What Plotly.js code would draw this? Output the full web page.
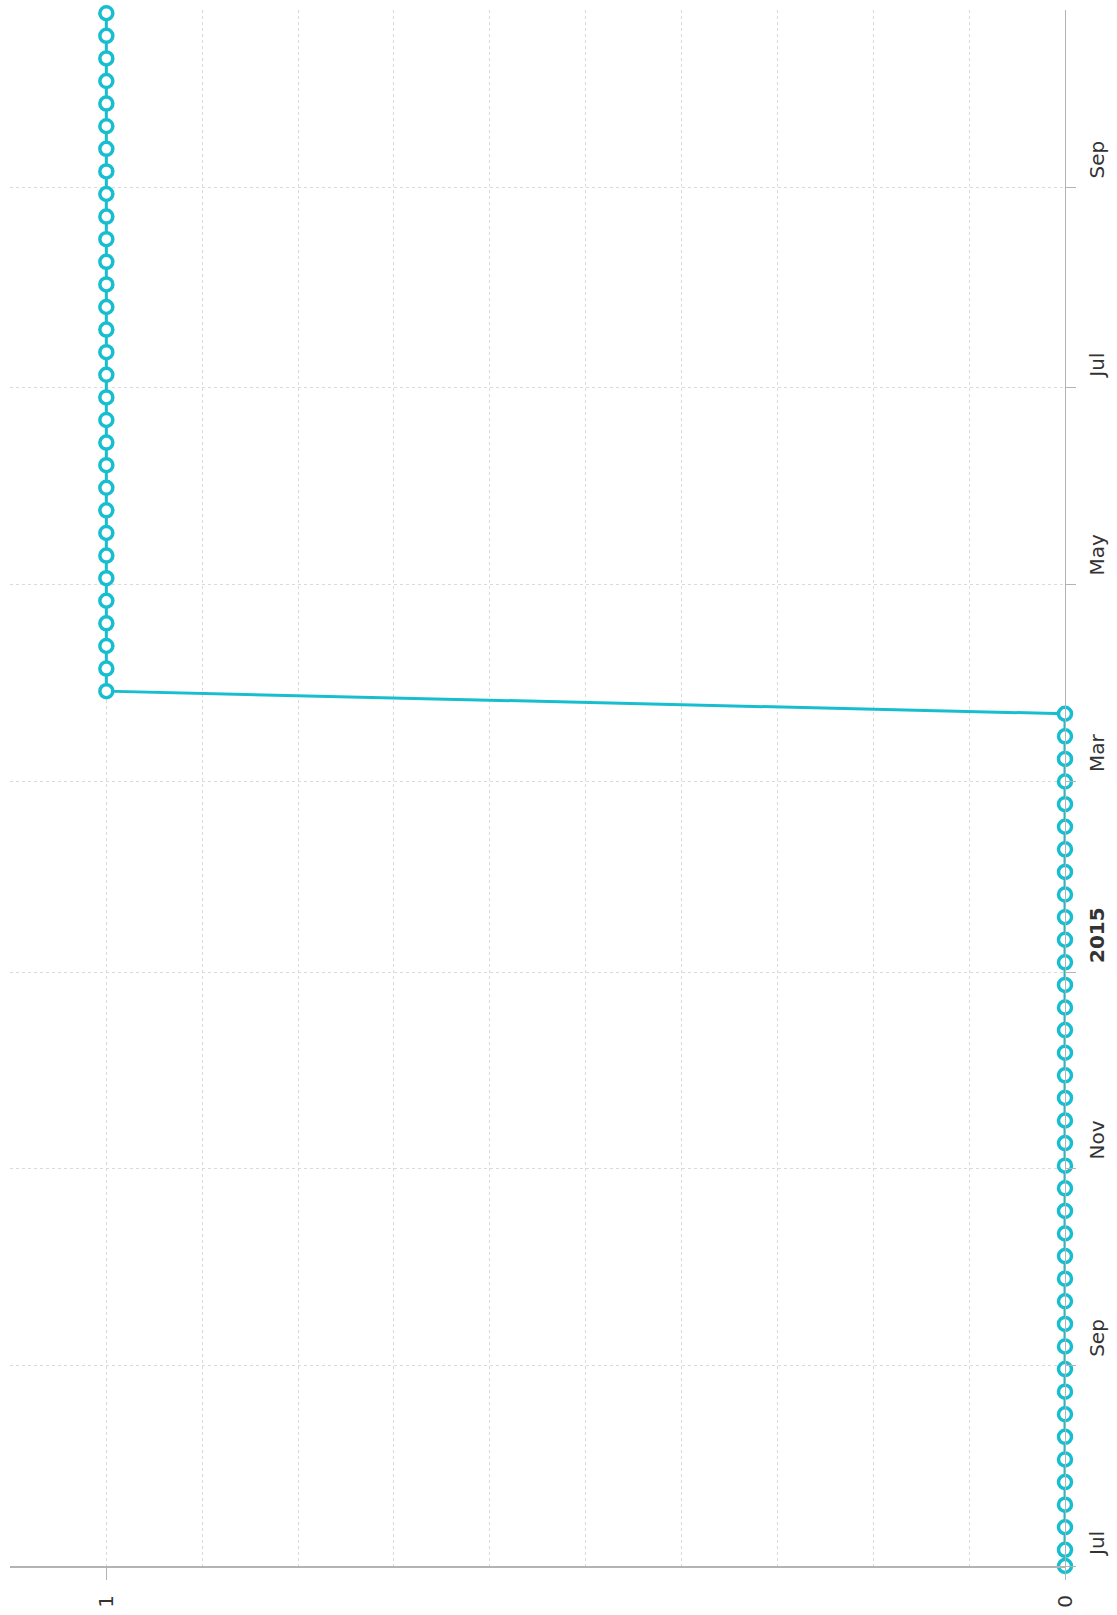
<!DOCTYPE html>
<html>
<head>
<meta charset="utf-8">
<script src="https://cdn.plot.ly/plotly-3.0.1.min.js"></script>
<style>
  html, body { margin: 0; padding: 0; background: #ffffff; }
  #chart { width: 1117px; height: 1615px; }
</style>
</head>
<body>
<div id="chart"></div>
<script>
// ---- data ----
const weekDates = [
  "2014-07-01",
  "2014-07-06","2014-07-13","2014-07-20","2014-07-27",
  "2014-08-03","2014-08-10","2014-08-17","2014-08-24","2014-08-31",
  "2014-09-07","2014-09-14","2014-09-21","2014-09-28",
  "2014-10-05","2014-10-12","2014-10-19","2014-10-26",
  "2014-11-02","2014-11-09","2014-11-16","2014-11-23","2014-11-30",
  "2014-12-07","2014-12-14","2014-12-21","2014-12-28",
  "2015-01-04","2015-01-11","2015-01-18","2015-01-25",
  "2015-02-01","2015-02-08","2015-02-15","2015-02-22",
  "2015-03-01","2015-03-08","2015-03-15","2015-03-22","2015-03-29",
  "2015-04-05","2015-04-12","2015-04-19","2015-04-26",
  "2015-05-03","2015-05-10","2015-05-17","2015-05-24","2015-05-31",
  "2015-06-07","2015-06-14","2015-06-21","2015-06-28",
  "2015-07-05","2015-07-12","2015-07-19","2015-07-26",
  "2015-08-02","2015-08-09","2015-08-16","2015-08-23","2015-08-30",
  "2015-09-06","2015-09-13","2015-09-20","2015-09-27",
  "2015-10-04","2015-10-11","2015-10-18","2015-10-25"
];
const weekValues = [
  0,
  0,0,0,0,
  0,0,0,0,0,
  0,0,0,0,
  0,0,0,0,
  0,0,0,0,0,
  0,0,0,0,
  0,0,0,0,
  0,0,0,0,
  0,0,0,0,1,
  1,1,1,1,
  1,1,1,1,1,
  1,1,1,1,
  1,1,1,1,
  1,1,1,1,1,
  1,1,1,1,
  1,1,1,1
];
const timeTickDates  = ["2014-07-01","2014-09-01","2014-11-01","2015-01-01","2015-03-01","2015-05-01","2015-07-01","2015-09-01"];
const timeTickLabels = ["Jul","Sep","Nov","<b>2015</b>","Mar","May","Jul","Sep"];
const valueTicks      = [0, 1];
const valueTickLabels = ["0", "1"];
const timeRange  = ["2014-07-01", "2015-10-26"];
const valueRange = [1.1005, 0];

// ---- styles ----
const FONT = "DejaVu Sans";
const LINE_COLOR = "#17becf";
const AXIS_COLOR = "#b3b3b3";
const GRID_COLOR = "#dadada";
const TEXT_COLOR = "#333333";

const trace = {
  type: "scatter",
  mode: "lines+markers",
  x: weekValues,
  y: weekDates,
  line: { color: LINE_COLOR, width: 3 },
  marker: { symbol: "circle", size: 13, color: "#ffffff", line: { color: LINE_COLOR, width: 3.5 } },
  cliponaxis: false,
  hoverinfo: "x+y",
  showlegend: false
};

const annotations = timeTickDates.map((d, i) => ({
  xref: "paper", yref: "y",
  x: 1, y: d,
  xanchor: "center", yanchor: "bottom",
  xshift: 32, yshift: 7,
  textangle: -90,
  text: timeTickLabels[i],
  showarrow: false,
  font: { family: FONT, size: 20, color: TEXT_COLOR }
}));

const layout = {
  width: 1117,
  height: 1615,
  margin: { l: 10, r: 52, t: 10, b: 49, pad: 0 },
  paper_bgcolor: "#ffffff",
  plot_bgcolor: "#ffffff",
  showlegend: false,
  xaxis: {
    range: valueRange,
    tickmode: "array",
    tickvals: valueTicks,
    ticktext: valueTickLabels,
    tickangle: -90,
    ticks: "outside",
    ticklen: 12,
    tickwidth: 1,
    tickcolor: AXIS_COLOR,
    ticklabelstandoff: 7,
    tickfont: { family: FONT, size: 20, color: TEXT_COLOR },
    showline: true,
    linecolor: AXIS_COLOR,
    linewidth: 2,
    showgrid: true,
    gridcolor: GRID_COLOR,
    griddash: "dot",
    gridwidth: 1,
    zeroline: false,
    minor: {
      tickmode: "linear",
      tick0: 0,
      dtick: 0.1,
      ticks: "",
      showgrid: true,
      gridcolor: GRID_COLOR,
      griddash: "dot",
      gridwidth: 1
    }
  },
  yaxis: {
    type: "date",
    range: timeRange,
    side: "right",
    tickmode: "array",
    tickvals: timeTickDates,
    showticklabels: false,
    ticks: "outside",
    ticklen: 10,
    tickwidth: 1,
    tickcolor: AXIS_COLOR,
    showline: true,
    linecolor: AXIS_COLOR,
    linewidth: 1,
    showgrid: true,
    gridcolor: GRID_COLOR,
    griddash: "dot",
    gridwidth: 1,
    zeroline: false
  },
  annotations: annotations
};

Plotly.newPlot("chart", [trace], layout, { displayModeBar: false, staticPlot: true });
</script>
</body>
</html>
